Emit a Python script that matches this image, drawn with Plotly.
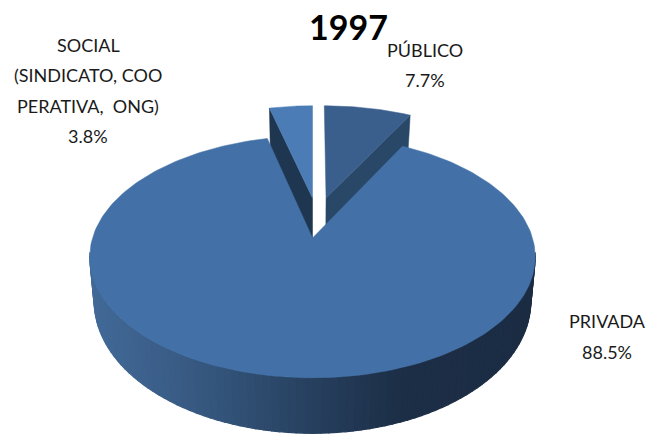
import math
import plotly.graph_objects as go

title_text = "1997"
categories = ["PÚBLICO", "PRIVADA", "SOCIAL"]
values = [7.7, 88.5, 3.8]
label_lines = {
    "PÚBLICO": ["PÚBLICO"],
    "PRIVADA": ["PRIVADA"],
    "SOCIAL": ["SOCIAL", "(SINDICATO, COO", "PERATIVA,  ONG)"],
}

# projection of the tilted disc into the plot's pixel-sized axes
CX, CY, A, B, K, DEPTH = 312.5, 238.0, 220.0, 118.0, 0.156, 43.0
BOTTOM_SHRINK = 0.98


def proj(u, v, down=False, extra=0.0):
    w = 1 + K * v
    x = CX + A * u / w
    y = CY - B * v / w
    if down:
        x = CX + (x - CX) * BOTTOM_SHRINK
        y += DEPTH / w ** 1.5 + extra
    return x, y


total = sum(values)
sweep = [2 * math.pi * val / total for val in values]
pub_end = sweep[0]
soc_start = -sweep[2]
fig = go.Figure()


def poly(points, color, lw=0.5):
    fig.add_trace(go.Scatter(
        x=[p[0] for p in points] + [points[0][0]],
        y=[p[1] for p in points] + [points[0][1]],
        mode="lines", fill="toself", fillcolor=color,
        line=dict(color=color, width=lw),
        hoverinfo="skip", showlegend=False))


def wedge(t0, t1, su, sv, color, side_t, side_color, extra=0.0):
    n = 40
    rim = [proj(su + math.sin(t0 + (t1 - t0) * i / n),
                sv + math.cos(t0 + (t1 - t0) * i / n)) for i in range(n + 1)]
    sx, sy = math.sin(side_t), math.cos(side_t)
    poly([proj(su, sv), proj(su + sx, sv + sy),
          proj(su + sx, sv + sy, True, extra), proj(su, sv, True, extra)], side_color)
    poly([proj(su, sv)] + rim, color)


# exploded slices, behind the large one
wedge(0, pub_end, 0.065, 0.358, "#3a5f8d", pub_end, "#294868")
wedge(soc_start, 0, 0.0, 0.358, "#4c7cb6", soc_start, "#1f3651", 7.0)


def side_color(x):
    stops = [(90, (66, 106, 152)), (200, (54, 88, 128)), (300, (40, 66, 98)),
             (400, (28, 46, 70)), (534, (27, 44, 67))]
    for (x0, c0), (x1, c1) in zip(stops, stops[1:]):
        if x <= x1:
            f = (x - x0) / (x1 - x0)
            return "rgb(%d,%d,%d)" % tuple(round(a + (b - a) * f) for a, b in zip(c0, c1))
    return "rgb(27,44,67)"


# side wall of the large slice, in strips for the shading
steps = 90
for i in range(steps):
    t0 = math.pi / 2 + 0.12 + (math.pi - 0.24) * i / steps
    t1 = math.pi / 2 + 0.12 + (math.pi - 0.24) * (i + 1) / steps
    a0 = (math.sin(t0), math.cos(t0))
    a1 = (math.sin(t1), math.cos(t1))
    pts = [proj(*a0), proj(*a1), proj(*a1, True), proj(*a0, True)]
    poly(pts, side_color(sum(p[0] for p in pts) / 4), 1.2)

# top of the large slice
n = 240
top = [proj(0, 0)]
for i in range(n + 1):
    t = pub_end + sweep[1] * i / n
    top.append(proj(math.sin(t), math.cos(t)))
poly(top, "#4371a7")


def note(text, x, y):
    fig.add_annotation(x=x, y=y, text=text, showarrow=False, xanchor="center",
                       yanchor="middle", font=dict(family="Lato", size=18, color="#1a1a1a"))


pct = {c: f"{v}%" for c, v in zip(categories, values)}
for line, y in zip(label_lines["SOCIAL"] + [pct["SOCIAL"]], [45, 75, 106, 136]):
    note(line, 88, y)
for line, y in zip(label_lines["PÚBLICO"] + [pct["PÚBLICO"]], [50, 80]):
    note(line, 425, y)
for line, y in zip(label_lines["PRIVADA"] + [pct["PRIVADA"]], [321, 352]):
    note(line, 607, y)

fig.add_annotation(x=348, y=26, text=f"<b>{title_text}</b>", showarrow=False,
                   xanchor="center", yanchor="middle",
                   font=dict(family="Lato", size=34, color="#000000"))

fig.update_layout(
    width=647, height=436, margin=dict(l=0, r=0, t=0, b=0),
    paper_bgcolor="white", plot_bgcolor="white", showlegend=False,
    xaxis=dict(range=[0, 647], visible=False, fixedrange=True),
    yaxis=dict(range=[436, 0], visible=False, fixedrange=True),
)
fig.write_html("out.html", config={"displayModeBar": False},
               post_script="document.body.style.margin='0';")
